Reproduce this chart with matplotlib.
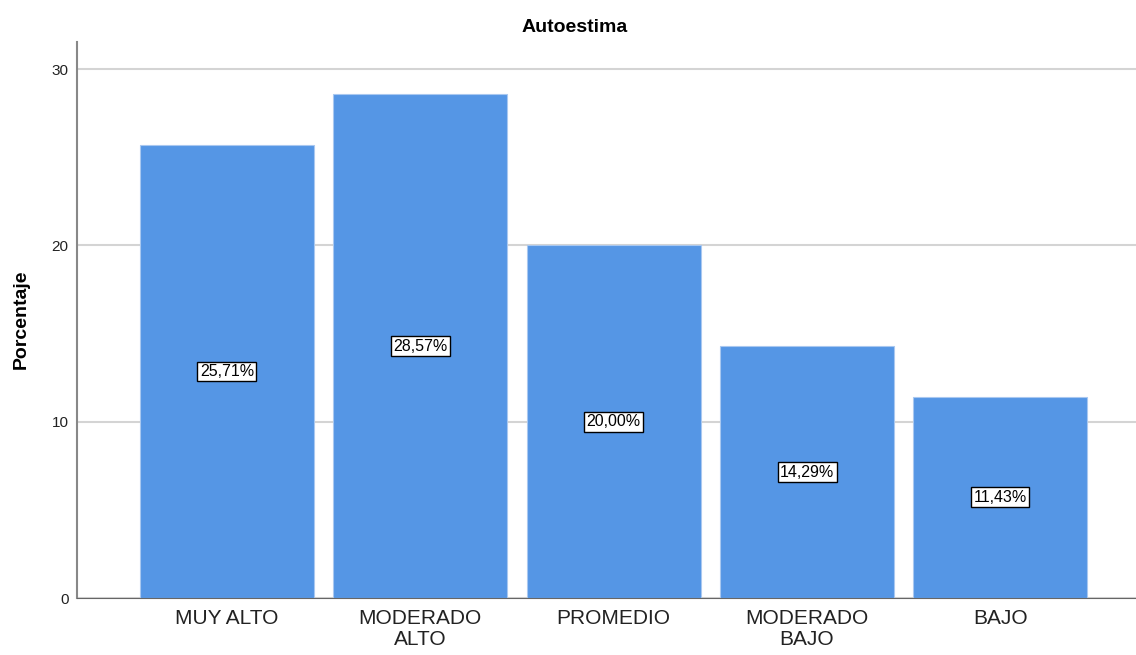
import matplotlib.pyplot as plt
import numpy as np

plt.rcParams['font.family'] = ['Liberation Sans', 'DejaVu Sans']

# Datos
categorias = ["MUY ALTO", "MODERADO\nALTO", "PROMEDIO", "MODERADO\nBAJO", "BAJO"]
porcentajes = [25.71, 28.57, 20.00, 14.29, 11.43]
etiquetas = ["25,71%", "28,57%", "20,00%", "14,29%", "11,43%"]

fig = plt.figure(figsize=(11.36, 6.55), dpi=100)
ax = fig.add_axes([0.0678, 0.087, 0.932, 0.849])

x = np.arange(len(categorias))
ax.bar(x, porcentajes, width=0.9, color='#5596e5', edgecolor='#a9c8f0', linewidth=0.8, zorder=2)

# etiquetas en el centro de cada barra
for xi, v, lab in zip(x, porcentajes, etiquetas):
    ax.text(xi, v / 2, lab, ha='center', va='center', fontsize=11.5, zorder=3,
            bbox=dict(boxstyle='square,pad=0.15', facecolor='white', edgecolor='black', linewidth=1))

ax.set_xlim(-0.775, 4.70)
ax.set_ylim(0, 31.55)
ax.set_yticks([0, 10, 20, 30])
ax.set_xticks(x)
ax.set_xticklabels(categorias, fontsize=15, color='#222222', linespacing=1.1)
ax.tick_params(axis='y', labelsize=11, length=0, pad=6, labelcolor='#222222')
ax.tick_params(axis='x', length=0, pad=8)

ax.grid(axis='y', color='#d4d4d4', linewidth=1.5, zorder=0)
ax.set_axisbelow(True)
for s in ['top', 'right']:
    ax.spines[s].set_visible(False)
ax.spines['left'].set_color('#888888')
ax.spines['bottom'].set_color('#666666')
ax.spines['left'].set_linewidth(1.5)

fig.text(0.506, 0.958, "Autoestima", fontsize=14, fontweight='bold', ha='center', va='center')
fig.text(0.019, 0.513, "Porcentaje", fontsize=14, fontweight='bold', rotation=90, ha='center', va='center')

fig.savefig("out.png", dpi=100)
